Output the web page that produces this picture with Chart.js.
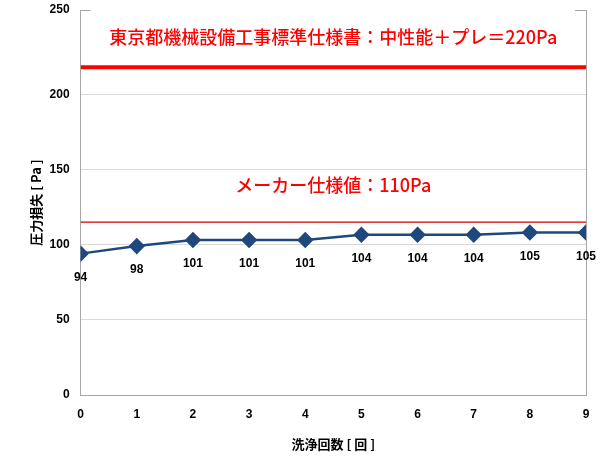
<!DOCTYPE html>
<html>
<head>
<meta charset="utf-8">
<script src="https://cdn.jsdelivr.net/npm/chart.js@4.4.0/dist/chart.umd.min.js"></script>
<style>
  html, body { margin: 0; padding: 0; background: #fff; }
</style>
</head>
<body>
<canvas id="myChart" width="604" height="457"></canvas>
<script>
// 洗浄回数 (x) と 圧力損失 (y)
var washCount = [0, 1, 2, 3, 4, 5, 6, 7, 8, 9];
var pressureLoss = [94, 99, 103, 103, 103, 106.5, 106.5, 106.5, 108, 108];
var pointLabels = ['94', '98', '101', '101', '101', '104', '104', '104', '105', '105'];

var yTickLabels = ['0', '50', '100', '150', '200', '250'];
var yTickValues = [0, 50, 100, 150, 200, 256];
var yMax = 256;

var tokyoSpec = 218;
var makerSpec = 115;
var tokyoText = '東京都機械設備工事標準仕様書：中性能＋プレ＝220Pa';
var makerText = 'メーカー仕様値：110Pa';

var axisGray = '#a6a6a6';
var gridGray = '#d9d9d9';

function hLine(v) {
    return [{x: washCount[0], y: v}, {x: washCount[washCount.length - 1], y: v}];
}

// labels under points + the two red captions + the bits of top frame
var extras = {
    id: 'extras',
    afterDatasetsDraw: function(chart) {
        var ctx = chart.ctx;
        var area = chart.chartArea;
        var yScale = chart.scales.y;
        ctx.save();

        ctx.strokeStyle = axisGray;
        ctx.lineWidth = 1;
        ctx.beginPath();
        ctx.moveTo(area.left, area.top + 0.5);
        ctx.lineTo(area.left + 10, area.top + 0.5);
        ctx.moveTo(area.right - 11, area.top + 0.5);
        ctx.lineTo(area.right, area.top + 0.5);
        ctx.stroke();

        ctx.fillStyle = '#000';
        ctx.font = 'bold 12px "Liberation Sans", Arial, sans-serif';
        ctx.textAlign = 'center';
        ctx.textBaseline = 'middle';
        var meta = chart.getDatasetMeta(0);
        meta.data.forEach(function(pt, i) {
            ctx.fillText(pointLabels[i], pt.x, pt.y + 24);
        });

        var cx = (area.left + area.right) / 2;
        ctx.fillStyle = '#ff0000';
        ctx.font = '500 18px "Noto Sans CJK JP", sans-serif';
        ctx.fillText(tokyoText, cx, yScale.getPixelForValue(tokyoSpec) - 30);
        ctx.fillText(makerText, cx, yScale.getPixelForValue(makerSpec) - 37);
        ctx.restore();
    }
};

var ctx = document.getElementById('myChart').getContext('2d');
var chart = new Chart(ctx, {
    type: 'line',
    data: {
        datasets: [{
            label: '圧力損失',
            data: washCount.map(function(x, i) { return {x: x, y: pressureLoss[i]}; }),
            borderColor: '#1f497d',
            backgroundColor: '#1f497d',
            borderWidth: 2.5,
            pointStyle: 'rectRot',
            pointRadius: 6.5,
            pointHoverRadius: 6.5,
            tension: 0
        }, {
            label: 'tokyo',
            data: hLine(tokyoSpec),
            borderColor: '#ff0000',
            borderWidth: 4,
            pointRadius: 0
        }, {
            label: 'maker',
            data: hLine(makerSpec),
            borderColor: '#d40000',
            borderWidth: 1.2,
            pointRadius: 0
        }]
    },
    options: {
        responsive: false,
        animation: false,
        devicePixelRatio: 1,
        layout: { padding: { left: 24, right: 18, top: 10, bottom: 1 } },
        plugins: {
            legend: { display: false },
            tooltip: { enabled: false }
        },
        scales: {
            x: {
                type: 'linear',
                min: 0,
                max: 9,
                ticks: {
                    stepSize: 1,
                    padding: 12,
                    color: '#000',
                    font: { family: '"Liberation Sans", Arial, sans-serif', size: 12, weight: 'bold' }
                },
                grid: {
                    drawTicks: false,
                    color: function(c) { return c.tick && c.tick.value === 9 ? axisGray : 'rgba(0,0,0,0)'; }
                },
                border: { color: axisGray },
                title: {
                    display: true,
                    text: '洗浄回数 [ 回 ]',
                    color: '#000',
                    padding: { top: 3, bottom: 4 },
                    font: { family: '"Noto Sans CJK JP", sans-serif', size: 13, weight: 'bold' }
                }
            },
            y: {
                min: 0,
                max: yMax,
                afterBuildTicks: function(scale) {
                    scale.ticks = yTickValues.map(function(v) { return {value: v}; });
                },
                afterFit: function(scale) {
                    scale.paddingTop = 0;
                },
                ticks: {
                    padding: 11,
                    color: '#000',
                    font: { family: '"Liberation Sans", Arial, sans-serif', size: 12, weight: 'bold' },
                    callback: function(value, index) { return yTickLabels[index]; }
                },
                grid: {
                    drawTicks: false,
                    color: function(c) {
                        if (!c.tick) return gridGray;
                        if (c.tick.value === 0) return axisGray;
                        if (c.tick.value >= yMax) return 'rgba(0,0,0,0)';
                        return gridGray;
                    }
                },
                border: { color: axisGray },
                title: {
                    display: true,
                    text: '圧力損失 [ Pa ]',
                    color: '#000',
                    padding: { top: 4, bottom: -5 },
                    font: { family: '"Noto Sans CJK JP", sans-serif', size: 13, weight: 'bold' }
                }
            }
        }
    },
    plugins: [extras]
});
</script>
</body>
</html>
